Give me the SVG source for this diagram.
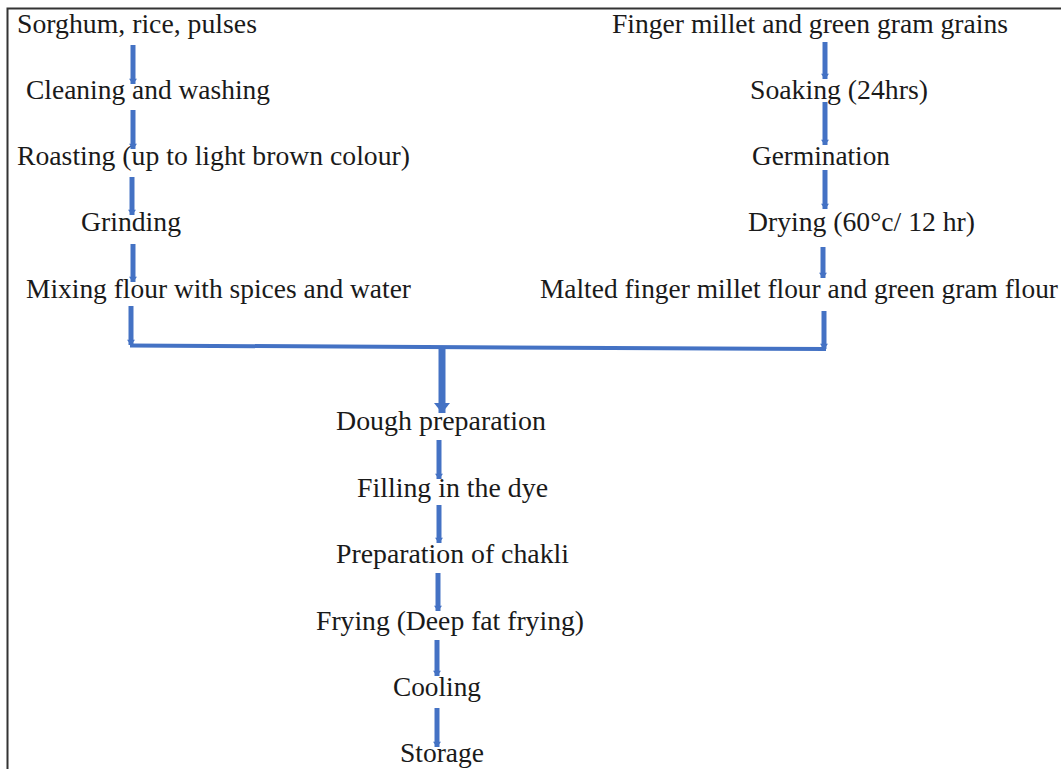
<svg xmlns="http://www.w3.org/2000/svg" width="1061" height="769" viewBox="0 0 1061 769">
<style>
text{font-family:"Liberation Serif","Times New Roman",serif;font-size:26.5px;fill:#1a1a1a}
.a{stroke:#4472C4;stroke-width:5;fill:none}
.b{stroke:#4472C4;stroke-width:4;fill:none}
</style>
<defs>
<marker id="hd" markerUnits="userSpaceOnUse" markerWidth="12" markerHeight="8" refX="8" refY="6" orient="auto" viewBox="0 0 8 12">
<path d="M0,0 L8,6 L0,12 Z" fill="#4472C4"/>
</marker>
<marker id="hb" markerUnits="userSpaceOnUse" markerWidth="10" markerHeight="16" refX="10" refY="8" orient="auto" viewBox="0 0 10 16">
<path d="M0,0 L10,8 L0,16 Z" fill="#4472C4"/>
</marker>
</defs>
<rect x="0" y="0" width="1061" height="769" fill="#fff"/>
<path d="M7.5,769 V8.5 H1061" stroke="#333" stroke-width="2" fill="none"/>
<g id="connectors">
<line class="a" x1="133" y1="45" x2="133" y2="84" marker-end="url(#hd)"/>
<line class="a" x1="133" y1="110" x2="133" y2="149" marker-end="url(#hd)"/>
<line class="a" x1="132" y1="177" x2="132" y2="215" marker-end="url(#hd)"/>
<line class="a" x1="133" y1="244" x2="133" y2="282" marker-end="url(#hd)"/>
<line class="a" x1="131" y1="306" x2="131" y2="345" marker-end="url(#hd)"/>
<line class="a" x1="825" y1="42" x2="825" y2="79" marker-end="url(#hd)"/>
<line class="a" x1="825" y1="102" x2="825" y2="145" marker-end="url(#hd)"/>
<line class="a" x1="825" y1="170" x2="825" y2="209" marker-end="url(#hd)"/>
<line class="a" x1="823" y1="247" x2="823" y2="278" marker-end="url(#hd)"/>
<line class="a" x1="824" y1="311" x2="824" y2="349" marker-end="url(#hd)"/>
<line class="b" x1="130" y1="345.5" x2="826" y2="349"/>
<line stroke="#4472C4" stroke-width="7" x1="442" y1="347" x2="442" y2="413" marker-end="url(#hb)"/>
<line class="a" x1="439" y1="440" x2="439" y2="479" marker-end="url(#hd)"/>
<line class="a" x1="439" y1="505" x2="439" y2="543" marker-end="url(#hd)"/>
<line class="a" x1="438" y1="573" x2="438" y2="611" marker-end="url(#hd)"/>
<line class="a" x1="437" y1="640" x2="437" y2="676" marker-end="url(#hd)"/>
<line class="a" x1="437" y1="708" x2="437" y2="747" marker-end="url(#hd)"/>
</g>
<g id="n1"><text x="17" y="33" textLength="240" lengthAdjust="spacingAndGlyphs">Sorghum, rice, pulses</text></g>
<g id="n2"><text x="26" y="99" textLength="244" lengthAdjust="spacingAndGlyphs">Cleaning and washing</text></g>
<g id="n3"><text x="17" y="165" textLength="393" lengthAdjust="spacingAndGlyphs">Roasting (up to light brown colour)</text></g>
<g id="n4"><text x="81" y="231" textLength="100" lengthAdjust="spacingAndGlyphs">Grinding</text></g>
<g id="n5"><text x="26" y="298" textLength="385" lengthAdjust="spacingAndGlyphs">Mixing flour with spices and water</text></g>
<g id="n6"><text x="612" y="33" textLength="396" lengthAdjust="spacingAndGlyphs">Finger millet and green gram grains</text></g>
<g id="n7"><text x="750" y="99" textLength="178" lengthAdjust="spacingAndGlyphs">Soaking (24hrs)</text></g>
<g id="n8"><text x="752" y="165" textLength="138" lengthAdjust="spacingAndGlyphs">Germination</text></g>
<g id="n9"><text x="748" y="231" textLength="227" lengthAdjust="spacingAndGlyphs">Drying (60°c/ 12 hr)</text></g>
<g id="n10"><text x="540" y="298" textLength="518" lengthAdjust="spacingAndGlyphs">Malted finger millet flour and green gram flour</text></g>
<g id="n11"><text x="336" y="430" textLength="210" lengthAdjust="spacingAndGlyphs">Dough preparation</text></g>
<g id="n12"><text x="357" y="497" textLength="191" lengthAdjust="spacingAndGlyphs">Filling in the dye</text></g>
<g id="n13"><text x="336" y="563" textLength="233" lengthAdjust="spacingAndGlyphs">Preparation of chakli</text></g>
<g id="n14"><text x="316" y="630" textLength="268" lengthAdjust="spacingAndGlyphs">Frying (Deep fat frying)</text></g>
<g id="n15"><text x="393" y="696" textLength="88" lengthAdjust="spacingAndGlyphs">Cooling</text></g>
<g id="n16"><text x="400" y="762" textLength="84" lengthAdjust="spacingAndGlyphs">Storage</text></g>
</svg>
